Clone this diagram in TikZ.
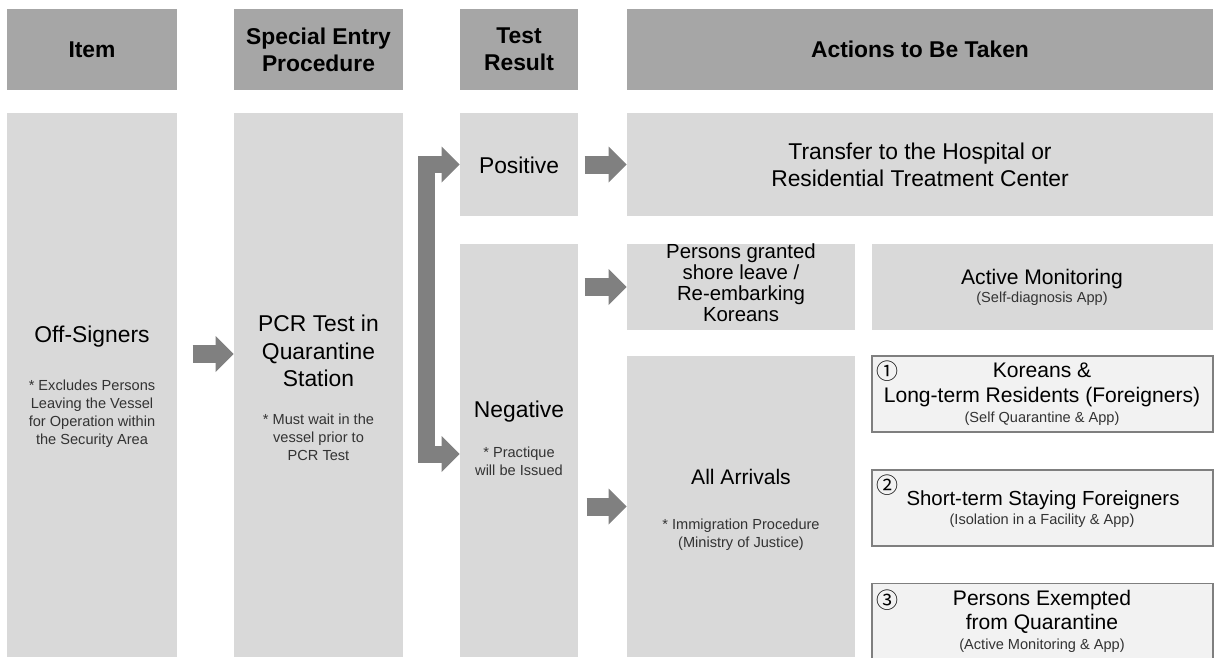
\documentclass[tikz,border=0pt]{standalone}
\usepackage{fontspec}
\setmainfont{Liberation Sans}
\newfontfamily\circfont{Noto Sans CJK KR}
\usetikzlibrary{arrows.meta}

\definecolor{headgray}{HTML}{A6A6A6}
\definecolor{cellgray}{HTML}{D9D9D9}
\definecolor{lightgray}{HTML}{F2F2F2}
\definecolor{arrowgray}{HTML}{808080}
\definecolor{framegray}{HTML}{7F7F7F}
\definecolor{notegray}{HTML}{333333}

\begin{document}
\begin{tikzpicture}[x=0.02cm, y=-0.02cm]

% Set the overall frame of the page
\useasboundingbox (0,0) rectangle (1215,657);

% Define styles for boxes and texts
\tikzstyle{head}=[fill=headgray, inner sep=0pt, minimum height=1.62cm]
\tikzstyle{cell}=[fill=cellgray, inner sep=0pt]
\tikzstyle{group}=[fill=lightgray, draw=framegray, line width=0.8pt, inner sep=0pt, minimum width=6.82cm]
\tikzstyle{headtext}=[align=center, font=\fontsize{13}{15.5}\selectfont\bfseries]
\tikzstyle{big}=[align=center, font=\fontsize{13}{15.5}\selectfont]
\tikzstyle{mid}=[align=center, font=\fontsize{12}{14}\selectfont]
\tikzstyle{note}=[align=center, text=notegray, font=\fontsize{8.3}{10.3}\selectfont]
\tikzstyle{num}=[font=\fontsize{12.5}{14}\circfont]

% Thick grey arrows
\tikzstyle{fat}=[draw=arrowgray, line width=0.36cm, -{Triangle[width=0.72cm, length=0.36cm, line width=0pt, color=arrowgray]}]
\tikzstyle{fork}=[draw=arrowgray, line width=0.34cm, {Triangle[width=0.72cm, length=0.36cm, line width=0pt, color=arrowgray]}-{Triangle[width=0.72cm, length=0.36cm, line width=0pt, color=arrowgray]}]

% Header row
\node[head, minimum width=3.4cm]   (hitem)   at (92,49.5)    {};
\node[head, minimum width=3.38cm]  (hentry)  at (318.5,49.5) {};
\node[head, minimum width=2.36cm]  (hresult) at (519,49.5)   {};
\node[head, minimum width=11.72cm] (haction) at (920,49.5)   {};
\node[headtext] (titem)   at (hitem)   {Item};
\node[headtext] (tentry)  at (hentry)  {Special Entry\\Procedure};
\node[headtext] (tresult) at (hresult) {Test\\Result};
\node[headtext] (taction) at (haction) {Actions to Be Taken};

% Body boxes
\node[cell, minimum width=3.4cm,  minimum height=10.88cm] (off)     at (92,385)      {};
\node[cell, minimum width=3.38cm, minimum height=10.88cm] (pcr)     at (318.5,385)   {};
\node[cell, minimum width=2.36cm, minimum height=2.06cm]  (pos)     at (519,164.5)   {};
\node[cell, minimum width=2.36cm, minimum height=8.26cm]  (neg)     at (519,450.5)   {};
\node[cell, minimum width=11.72cm, minimum height=2.06cm] (hosp)    at (920,164.5)   {};
\node[cell, minimum width=4.56cm, minimum height=1.72cm]  (shore)   at (741,287)     {};
\node[cell, minimum width=6.82cm, minimum height=1.72cm]  (monitor) at (1042.5,287)  {};
\node[cell, minimum width=4.56cm, minimum height=6.02cm]  (arrive)  at (741,506.5)   {};
\node[group, minimum height=1.52cm] (one)   at (1042.5,394)   {};
\node[group, minimum height=1.52cm] (two)   at (1042.5,508)   {};
\node[group, minimum height=1.60cm] (three) at (1042.5,623.5) {};

% Texts of the body
\node[big]  (toff)   at (92,337)  {Off-Signers};
\node[note] (noff)   at (92,414)  {* Excludes Persons\\Leaving the Vessel\\for Operation within\\the Security Area};
\node[big]  (tpcr)   at (318.5,351) {PCR Test in\\Quarantine\\Station};
\node[note] (npcr)   at (318.5,437) {* Must wait in the\\vessel prior to\\PCR Test};
\node[big]  (tpos)   at (519,165) {Positive};
\node[big]  (tneg)   at (519,412) {Negative};
\node[note] (nneg)   at (519,461) {* Practique\\will be Issued};
\node[big]  (thosp)  at (920,165) {Transfer to the Hospital or\\Residential Treatment Center};
\node[mid, font=\fontsize{11.6}{12}\selectfont] (tshore) at (741,283) {Persons granted\\shore leave /\\Re-embarking\\Koreans};
\node[mid]  (tmon)   at (1042,279) {Active Monitoring};
\node[note] (nmon)   at (1042,299) {(Self-diagnosis App)};
\node[mid]  (tarr)   at (741,477) {All Arrivals};
\node[note] (narr)   at (741,535) {* Immigration Procedure\\(Ministry of Justice)};

% Groups of all arrivals
\node[num]  (cone)   at (887,371) {①};
\node[mid]  (tone)   at (1042,385) {Koreans \&\\Long-term Residents (Foreigners)};
\node[note] (none)   at (1042,419) {(Self Quarantine \& App)};
\node[num]  (ctwo)   at (887,485) {②};
\node[mid, font=\fontsize{11.6}{14}\selectfont]  (ttwo)   at (1043,500) {Short-term Staying Foreigners};
\node[note] (ntwo)   at (1042,521) {(Isolation in a Facility \& App)};
\node[num]  (cthree) at (887,600) {③};
\node[mid]  (tthree) at (1042,612) {Persons Exempted\\from Quarantine};
\node[note] (nthree) at (1042,646) {(Active Monitoring \& App)};

% Arrows
\draw[fat] ([xshift=-0.82cm, yshift=0.62cm]pcr.west) -- ([yshift=0.62cm]pcr.west);
\coordinate (bend) at (426,300);
\draw[fork] (pos.west) -| (bend) |- ([yshift=-0.07cm]neg.west);
\draw[fat] ([xshift=-0.84cm]hosp.west) -- (hosp.west);
\draw[fat] ([xshift=-0.84cm]shore.west) -- (shore.west);
\draw[fat] ([xshift=-0.80cm]arrive.west) -- (arrive.west);

\end{tikzpicture}
\end{document}
